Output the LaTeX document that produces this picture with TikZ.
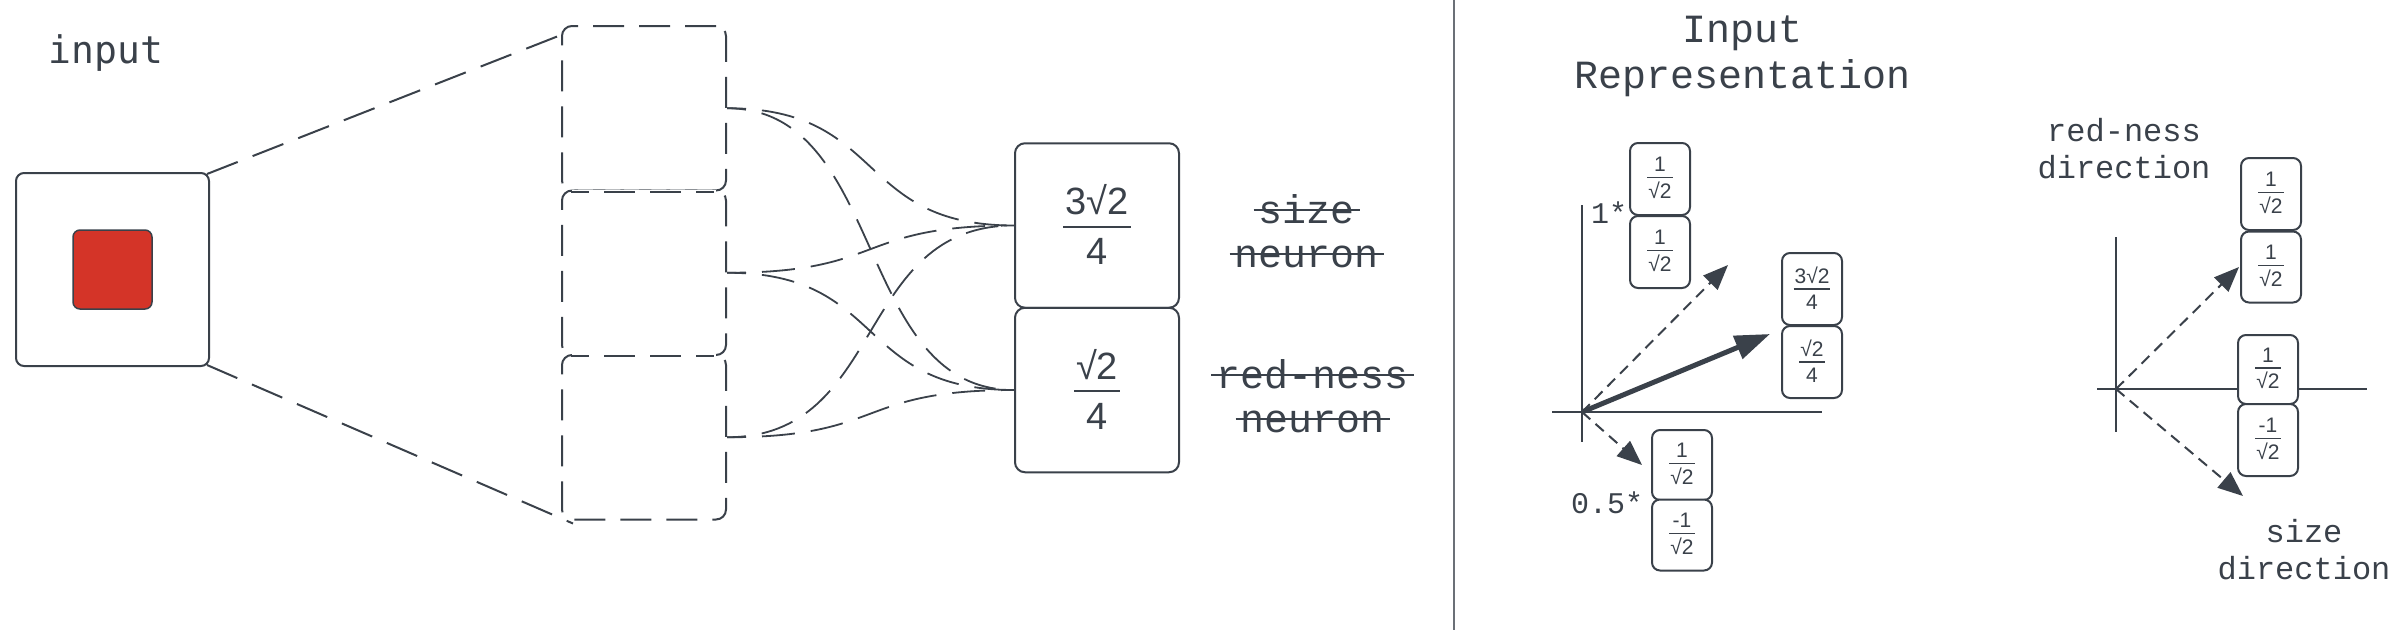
\documentclass[tikz,border=0pt]{standalone}
\usepackage{fontspec}
\setmainfont{Liberation Sans}
\newfontfamily\lmono{Liberation Mono}
\newfontfamily\dmono{DejaVu Sans Mono}
\usetikzlibrary{arrows.meta,calc}
\definecolor{ink}{RGB}{58,65,74}
\definecolor{redfill}{RGB}{212,52,40}
\newcommand\stk[1]{\setbox0=\hbox{#1}\rlap{\hskip-5pt\rule[12pt]{\dimexpr\wd0+10pt\relax}{2pt}}\box0}
\newcommand\bigfr[2]{{\fontsize{38}{40}\selectfont\setlength\arrayrulewidth{2pt}\renewcommand\arraystretch{0}%
\begin{tabular}{@{\hspace{2pt}}c@{\hspace{2pt}}}\rule[-11pt]{0pt}{30pt}#1\\\hline\rule[-2pt]{0pt}{39pt}#2\end{tabular}}}
\newcommand\smfr[2]{{\fontsize{21}{23}\selectfont\setlength\arrayrulewidth{1.5pt}\renewcommand\arraystretch{0}%
\begin{tabular}{@{\hspace{1pt}}c@{\hspace{1pt}}}\rule[-5pt]{0pt}{17pt}#1\\\hline\rule[-2pt]{0pt}{22pt}#2\end{tabular}}}
\begin{document}
\begin{tikzpicture}[x=1pt,y=-1pt,color=ink,line width=2pt,
  solidbox/.style={draw,rounded corners=8pt,fill=white,inner sep=0pt,line width=2pt},
  dbox/.style={draw,rounded corners=10pt,dash pattern=on 31pt off 15pt,inner sep=0pt,minimum width=164pt,minimum height=164.5pt},
  seam/.style={dash pattern=on 18pt off 15pt on 31pt off 15pt on 31pt off 15pt on 18pt off 200pt,line width=2pt},
  nbox/.style={draw,rounded corners=10pt,fill=white,minimum width=164pt,minimum height=164.5pt,inner sep=0pt},
  valbox/.style={draw,rounded corners=8pt,fill=white,minimum width=60pt,minimum height=72pt,inner sep=0pt,line width=2pt},
  longdash/.style={dash pattern=on 33pt off 16pt,line width=2pt},
  conn/.style={dash pattern=on 33pt off 16pt,dash phase=14pt,line width=1.8pt},
  shortdash/.style={dash pattern=on 11pt off 7pt,line width=2pt},
  axis/.style={line width=2.5pt},
  tip/.style={-{Triangle[length=25pt,width=20pt]}},
  bigtip/.style={-{Triangle[length=35pt,width=24pt]},line width=5pt},
  monolbl/.style={font=\lmono\fontsize{40}{44}\selectfont,align=center,inner sep=0pt},
  dirlbl/.style={font=\lmono\fontsize{32}{37}\selectfont,align=center,inner sep=0pt}]
\useasboundingbox (0,0) rectangle (2404,630);
% divider
\coordinate (dv1) at (1454,0);
\coordinate (dv2) at (1454,630);
\draw[line width=2pt,ink!75] (dv1) -- (dv2);
% input
\node[solidbox,minimum width=193pt,minimum height=193pt] (inbox) at (112.5,269.5) {};
\node[draw,rounded corners=7pt,fill=redfill,line width=1.5pt,minimum width=79pt,minimum height=79pt,inner sep=0pt] (redsq) at (112.5,269.5) {};
\node[font=\dmono\fontsize{38}{40}\selectfont,anchor=base,inner sep=0pt] (inlbl) at (106,63) {input};
% hidden layer boxes
\node[dbox] (h1) at (644,108.25) {};
\node[dbox] (h2) at (644,272.75) {};
\node[dbox] (h3) at (644,437.25) {};
\foreach \a/\b in {h1/h2,h2/h3}{
  \draw[white,line width=4pt] ($(\a.south west)+(11,0)$) -- ($(\a.south east)+(-11,0)$);
  \draw[seam] ($(\a.south west)+(10,0)$) -- ($(\a.south east)+(-10,0)$);
}
\draw[longdash] ($(inbox.north east)+(-3,2)$) -- ($(h1.north west)+(0,10)$);
\draw[longdash] ($(inbox.south east)+(-3,-2)$) -- ($(h3.south west)+(12,3)$);
% neurons
\node[nbox] (n1) at (1097,225.5) {\bigfr{3√2}{4}};
\node[nbox] (n2) at (1097,390) {\bigfr{√2}{4}};
\foreach \h in {h1,h2,h3}{
  \foreach \n in {n1,n2}{
    \draw[conn] (\h.east) .. controls +(160,0) and +(-160,0) .. (\n.west);
  }
}
\node[monolbl] (lbl1) at (1306.5,231) {\stk{size}\\\stk{neuron}};
\node[monolbl] (lbl2) at (1312.5,396) {\stk{red-ness}\\\stk{neuron}};
% title
\node[font=\lmono\fontsize{40}{46}\selectfont,align=center,inner sep=0pt] (title) at (1742.5,56) {Input\\Representation};
% left plot
\coordinate (O1) at (1582,412);
\coordinate (a1t) at (1582,205);
\coordinate (a1b) at (1582,442);
\coordinate (a1l) at (1552,412);
\coordinate (a1r) at (1822,412);
\draw[axis] (a1t) -- (a1b);
\draw[axis] (a1l) -- (a1r);
\coordinate (t1) at (1728,265);
\coordinate (t2) at (1770,334);
\coordinate (t3) at (1642,465);
\draw[shortdash,tip] (O1) -- (t1);
\draw[bigtip] (O1) -- (t2);
\draw[shortdash,tip] (O1) -- (t3);
\node[valbox] (A1) at (1660,179) {\smfr{1}{√2}};
\node[valbox] (A2) at (1660,252) {\smfr{1}{√2}};
\node[valbox] (B1) at (1812,289) {\smfr{3√2}{4}};
\node[valbox] (B2) at (1812,362) {\smfr{√2}{4}};
\node[valbox,minimum height=70pt] (C1) at (1682,465) {\smfr{1}{√2}};
\node[valbox,minimum height=71pt] (C2) at (1682,535) {\smfr{-1}{√2}};
\node[font=\lmono\fontsize{30}{32}\selectfont,anchor=base,inner sep=0pt] (k1) at (1609,223) {1*};
\node[font=\lmono\fontsize{30}{32}\selectfont,anchor=base,inner sep=0pt] (k2) at (1607,513) {0.5*};
% right plot
\coordinate (O2) at (2116,389);
\coordinate (a2t) at (2116,237);
\coordinate (a2b) at (2116,432);
\coordinate (a2l) at (2097,389);
\coordinate (a2r) at (2367,389);
\draw[axis] (a2t) -- (a2b);
\draw[axis] (a2l) -- (a2r);
\coordinate (t4) at (2239,267);
\coordinate (t5) at (2243,496);
\draw[shortdash,tip] (O2) -- (t4);
\draw[shortdash,tip] (O2) -- (t5);
\node[valbox] (E1) at (2271,194) {\smfr{1}{√2}};
\node[valbox,minimum height=71pt] (E2) at (2271,267) {\smfr{1}{√2}};
\node[valbox,minimum height=69pt] (D1) at (2268,369.5) {\smfr{1}{√2}};
\node[valbox] (D2) at (2268,440) {\smfr{-1}{√2}};
\node[dirlbl] (rdir) at (2124,149) {red-ness\\direction};
\node[dirlbl] (sdir) at (2304,550) {size\\direction};
\end{tikzpicture}
\end{document}
